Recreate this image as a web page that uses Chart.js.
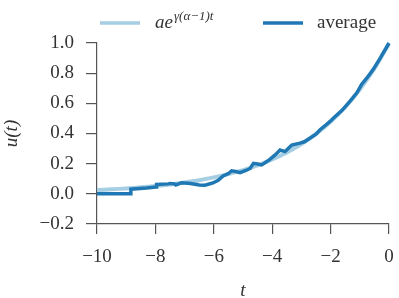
<!DOCTYPE html>
<html>
<head>
<meta charset="utf-8">
<script src="https://cdn.jsdelivr.net/npm/chart.js@4.4.1/dist/chart.umd.min.js"></script>
<style>
  html, body { margin: 0; padding: 0; background: #fff; }
  #wrap { width: 399px; height: 298px; position: relative; }
</style>
</head>
<body>
<div id="wrap"><canvas id="chart"></canvas></div>
<script>
// ---- data ----
const fitT = [-10, -9.5, -9, -8.5, -8, -7.5, -7, -6.5, -6, -5.5, -5, -4.5, -4, -3.5, -3, -2.5, -2, -1.5, -1, -0.5, 0];
const fitU = [0.025, 0.030, 0.036, 0.043, 0.052, 0.062, 0.075, 0.090, 0.109, 0.131, 0.157, 0.189, 0.228, 0.274, 0.330, 0.397, 0.477, 0.574, 0.691, 0.831, 0.995];

const avgT = [-10, -8.85, -8.84, -8.3, -7.97, -7.96, -7.55, -7.5, -7.35, -7.3, -7.1, -6.8, -6.5, -6.3, -6.03, -5.85,
  -5.68, -5.5, -5.39, -5.25, -5.1, -4.9, -4.76, -4.64, -4.5, -4.36, -4.1, -3.9, -3.73, -3.56, -3.33, -3.05,
  -2.9, -2.71, -2.5, -2.36, -2.2, -2.02, -1.9, -1.6, -1.34, -1.1, -0.94, -0.75, -0.54, -0.3, 0];
const avgU = [0.0, 0.0, 0.031, 0.038, 0.045, 0.062, 0.066, 0.069, 0.066, 0.059, 0.074, 0.068, 0.058, 0.057, 0.072, 0.09,
  0.118, 0.135, 0.153, 0.148, 0.14, 0.155, 0.168, 0.202, 0.198, 0.192, 0.225, 0.258, 0.29, 0.28, 0.323, 0.336,
  0.345, 0.368, 0.395, 0.425, 0.45, 0.48, 0.503, 0.555, 0.613, 0.67, 0.725, 0.77, 0.825, 0.9, 1.0];

const xTicks = [-10, -8, -6, -4, -2, 0];
const yTicks = [-0.2, 0.0, 0.2, 0.4, 0.6, 0.8, 1.0];

const LIGHT = '#a6cee3';
const DARK = '#1f78b4';
const SERIF = '"Liberation Serif", "DejaVu Serif", serif';
const AXIS = '#555';
const TEXT = '#333';

const pts = (xs, ys) => xs.map((x, i) => ({x, y: ys[i]}));
const minus = s => String(s).replace('-', '\u2212');

// legend drawn by hand so the formula can have a superscript
const legendPlugin = {
  id: 'texLegend',
  afterDraw(chart) {
    const c = chart.ctx;
    const mid = (chart.chartArea.left + chart.chartArea.right) / 2;
    const y = 23;
    c.save();
    c.lineCap = 'butt';
    c.lineWidth = 3.5;
    // entry 1
    let x = mid - 143;
    c.strokeStyle = LIGHT;
    c.beginPath(); c.moveTo(x, y); c.lineTo(x + 40, y); c.stroke();
    c.fillStyle = TEXT;
    c.textBaseline = 'alphabetic';
    c.font = 'italic 19px ' + SERIF;
    c.fillText('ae', x + 55, y + 5);
    const w = c.measureText('ae').width;
    c.font = 'italic 13px ' + SERIF;
    c.fillText('\u03b3(\u03b1\u22121)t', x + 55 + w + 1, y - 3);
    // entry 2
    x = mid + 20;
    c.strokeStyle = DARK;
    c.beginPath(); c.moveTo(x, y); c.lineTo(x + 40, y); c.stroke();
    c.font = '19px ' + SERIF;
    c.fillText('average', x + 54, y + 5);
    c.restore();
  }
};

new Chart(document.getElementById('chart'), {
  type: 'line',
  data: {
    datasets: [
      { label: 'fit', data: pts(fitT, fitU), borderColor: LIGHT, borderWidth: 4, pointRadius: 0, tension: 0.3, clip: false, order: 2 },
      { label: 'average', data: pts(avgT, avgU), borderColor: DARK, borderWidth: 3.5, pointRadius: 0, tension: 0, clip: false, order: 1 }
    ]
  },
  options: {
    responsive: true,
    maintainAspectRatio: false,
    animation: false,
    layout: { padding: { top: 43, right: 10, left: 0, bottom: 0 } },
    plugins: { legend: { display: false }, tooltip: { enabled: false } },
    scales: {
      x: {
        type: 'linear',
        min: xTicks[0], max: xTicks[xTicks.length - 1],
        afterBuildTicks: s => { s.ticks = xTicks.map(v => ({value: v})); },
        afterFit: s => { s.height = 74; s.paddingLeft = 0; s.paddingRight = 0; },
        grid: { display: true, drawOnChartArea: false, drawTicks: true, tickLength: 10, color: AXIS, lineWidth: 1.2 },
        border: { display: true, color: AXIS, width: 1.2 },
        ticks: { color: TEXT, font: { family: SERIF, size: 19 }, padding: 12, maxRotation: 0,
                 callback: v => minus(v) },
        title: { display: true, text: 't', color: TEXT, font: { family: SERIF, size: 19, style: 'italic', lineHeight: 1 }, padding: { top: 0, bottom: -2 } }
      },
      y: {
        min: yTicks[0], max: yTicks[yTicks.length - 1],
        afterBuildTicks: s => { s.ticks = yTicks.map(v => ({value: v})); },
        afterFit: s => { s.width = 97; },
        grid: { display: true, drawOnChartArea: false, drawTicks: true, tickLength: 11, color: AXIS, lineWidth: 1.2 },
        border: { display: true, color: AXIS, width: 1.2 },
        ticks: { color: TEXT, font: { family: SERIF, size: 19 }, padding: 12,
                 callback: v => minus((Math.abs(v) < 1e-9 ? 0 : v).toFixed(1)) },
        title: { display: true, text: 'u(t)', color: TEXT, font: { family: SERIF, size: 19, style: 'italic', lineHeight: 1.2 }, padding: { top: 1, bottom: 0 } }
      }
    }
  },
  plugins: [legendPlugin]
});
</script>
</body>
</html>
